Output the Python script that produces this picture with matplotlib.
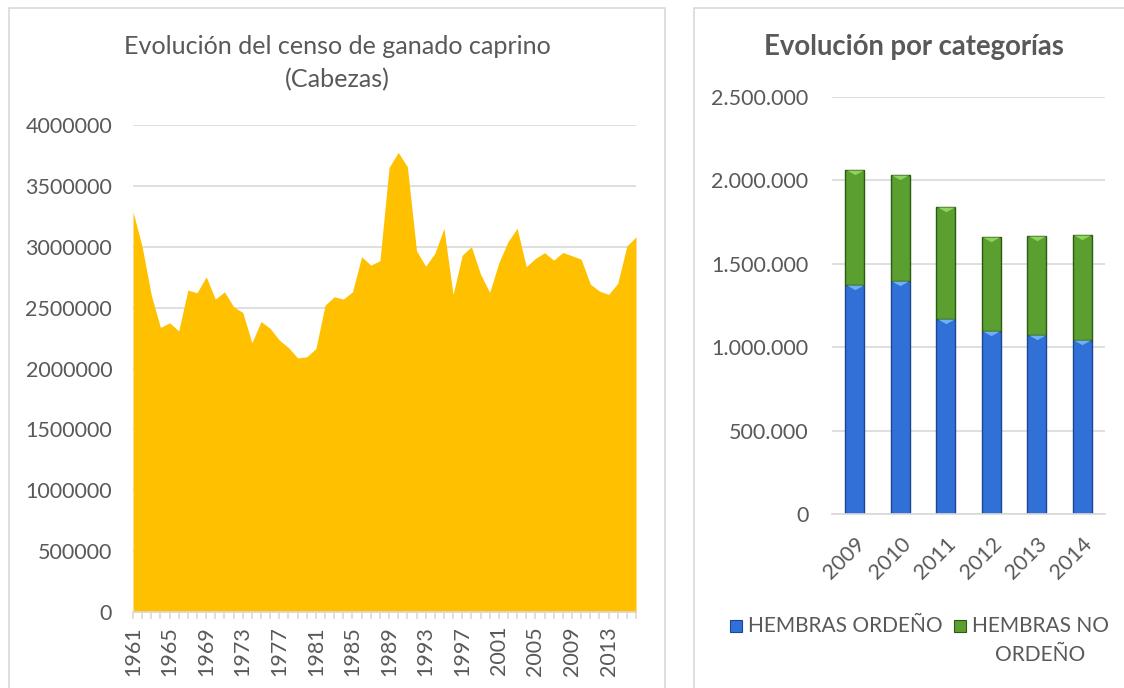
import matplotlib

matplotlib.use("Agg")
import matplotlib.pyplot as plt
import numpy as np
from matplotlib.path import Path
from matplotlib.patches import Rectangle
from matplotlib.ticker import FuncFormatter, MultipleLocator

# --- datos: censo caprino (cabezas), 1961-2016 ---
years = list(range(1961, 2017))
censo = [
    3288000, 3000000, 2603000, 2337000, 2375000, 2309000, 2644000, 2622000,
    2753000, 2570000, 2630000, 2507000, 2460000, 2211000, 2386000, 2329000,
    2233000, 2172000, 2087000, 2096000, 2164000, 2520000, 2589000, 2570000,
    2630000, 2918000, 2849000, 2885000, 3652000, 3775000, 3657000, 2967000,
    2841000, 2945000, 3151000, 2608000, 2931000, 3000000, 2775000, 2625000,
    2868000, 3041000, 3151000, 2836000, 2904000, 2951000, 2890000, 2953000,
    2926000, 2898000, 2693000, 2636000, 2608000, 2699000, 3005000, 3082000,
]

# --- datos: evolución por categorías ---
cat_years = ["2009", "2010", "2011", "2012", "2013", "2014"]
hembras_ordeno = [1370000, 1396000, 1172000, 1100000, 1076000, 1046000]
hembras_no_ordeno = [690000, 634000, 668000, 560000, 590000, 626000]

GRAY = "#595959"
GRID = "#D9D9D9"
FONT = "Lato"

plt.rcParams["font.family"] = [FONT, "DejaVu Sans"]

W, H = 1124, 688
fig = plt.figure(figsize=(W / 100, H / 100), dpi=100)


def fbox(x0, y0, x1, y1):
    """caja en píxeles (origen arriba-izquierda) -> fracción de figura"""
    return [x0 / W, 1 - y1 / H, (x1 - x0) / W, (y1 - y0) / H]


# marcos de los gráficos
fig.add_artist(Rectangle((9 / W, -0.05), (665 - 9) / W, 1.05 - 8 / H,
                         transform=fig.transFigure, fill=False,
                         edgecolor=GRID, linewidth=1.2))
fig.add_artist(Rectangle((694 / W, -0.05), 0.5, 1.05 - 8 / H,
                         transform=fig.transFigure, fill=False,
                         edgecolor=GRID, linewidth=1.2))

# ---------------- gráfico izquierdo: área ----------------
ax = fig.add_axes(fbox(133, 125, 636, 612))
ax.fill_between(years, censo, 0, color="#FFC000", linewidth=0, zorder=2)
ax.set_xlim(years[0], years[-1])
ax.set_ylim(0, 4000000)
ax.yaxis.set_major_locator(MultipleLocator(500000))
ax.yaxis.set_major_formatter(FuncFormatter(lambda v, p: f"{int(v)}"))
ax.grid(axis="y", color=GRID, linewidth=1.2, zorder=0)
ax.set_axisbelow(True)
for s in ["top", "right", "left"]:
    ax.spines[s].set_visible(False)
ax.spines["bottom"].set_color(GRID)
ax.spines["bottom"].set_linewidth(1.2)
ax.spines["bottom"].set_zorder(3)
ax.set_xticks(years[::4])
ax.set_xticks(years, minor=True)
ax.tick_params(axis="x", which="both", length=5, color=GRID, width=1.2,
               labelsize=15.5, labelcolor=GRAY, pad=5, labelrotation=90)
ax.tick_params(axis="y", length=0, labelsize=15.5, labelcolor=GRAY, pad=15)
fig.text(337 / W, 1 - 46 / H, "Evolución del censo de ganado caprino",
         ha="center", va="center", fontsize=18.1, color=GRAY)
fig.text(337 / W, 1 - 80 / H, "(Cabezas)",
         ha="center", va="center", fontsize=18.1, color=GRAY)

# ---------------- gráfico derecho: barras apiladas ----------------
bx = fig.add_axes(fbox(832, 97, 1105, 514))
pos = np.arange(len(cat_years))
totals = [a + b for a, b in zip(hembras_ordeno, hembras_no_ordeno)]
bw = 0.42
bx.bar(pos, hembras_ordeno, width=bw, color="#3170D6", edgecolor="#1D4594",
       linewidth=1.0, zorder=2, label="HEMBRAS ORDEÑO")
bx.bar(pos, hembras_no_ordeno, bottom=hembras_ordeno, width=bw,
       color="#5A9F30", edgecolor="#2C5A12", linewidth=1.0, zorder=2,
       label="HEMBRAS NO ORDEÑO")
# remate biselado en la parte superior de cada segmento
cap = Path([(-1, 0), (1, 0), (0, -0.55), (-1, 0)],
           [Path.MOVETO, Path.LINETO, Path.LINETO, Path.CLOSEPOLY])
bx.scatter(pos, hembras_ordeno, marker=cap, s=150, color="#6EB0F2",
           linewidths=0, zorder=3)
bx.scatter(pos, totals, marker=cap, s=150, color="#8ED35C",
           linewidths=0, zorder=3)

bx.set_xlim(-0.5, len(cat_years) - 0.5)
bx.set_ylim(0, 2500000)
bx.yaxis.set_major_locator(MultipleLocator(500000))
bx.yaxis.set_major_formatter(
    FuncFormatter(lambda v, p: f"{int(v):,}".replace(",", ".")))
bx.grid(axis="y", color=GRID, linewidth=1.2, zorder=0)
bx.set_axisbelow(True)
for s in ["top", "right", "left"]:
    bx.spines[s].set_visible(False)
bx.spines["bottom"].set_color(GRID)
bx.spines["bottom"].set_linewidth(1.2)
bx.set_xticks(pos)
bx.set_xticklabels(cat_years, rotation=45, ha="right", rotation_mode="anchor")
bx.tick_params(axis="x", length=0, labelsize=15.5, labelcolor=GRAY, pad=14)
bx.tick_params(axis="y", length=0, labelsize=15.5, labelcolor=GRAY, pad=17)
fig.text(914 / W, 1 - 47 / H, "Evolución por categorías",
         ha="center", va="center", fontsize=19.8, color=GRAY, fontweight="bold")

# leyenda
fig.add_artist(Rectangle((730 / W, 1 - 632 / H), 12 / W, 12 / H,
                         transform=fig.transFigure, facecolor="#3170D6",
                         edgecolor="#1D4594", linewidth=0.8))
fig.text(748 / W, 1 - 626 / H, "HEMBRAS ORDEÑO", ha="left", va="center",
         fontsize=15, color=GRAY)
fig.add_artist(Rectangle((954 / W, 1 - 632 / H), 12 / W, 12 / H,
                         transform=fig.transFigure, facecolor="#5A9F30",
                         edgecolor="#2C5A12", linewidth=0.8))
fig.text(1040 / W, 1 - 626 / H, "HEMBRAS NO", ha="center", va="center",
         fontsize=15, color=GRAY)
fig.text(1040 / W, 1 - 655 / H, "ORDEÑO", ha="center", va="center",
         fontsize=15, color=GRAY)

fig.savefig("out.png", dpi=100, facecolor="white")
